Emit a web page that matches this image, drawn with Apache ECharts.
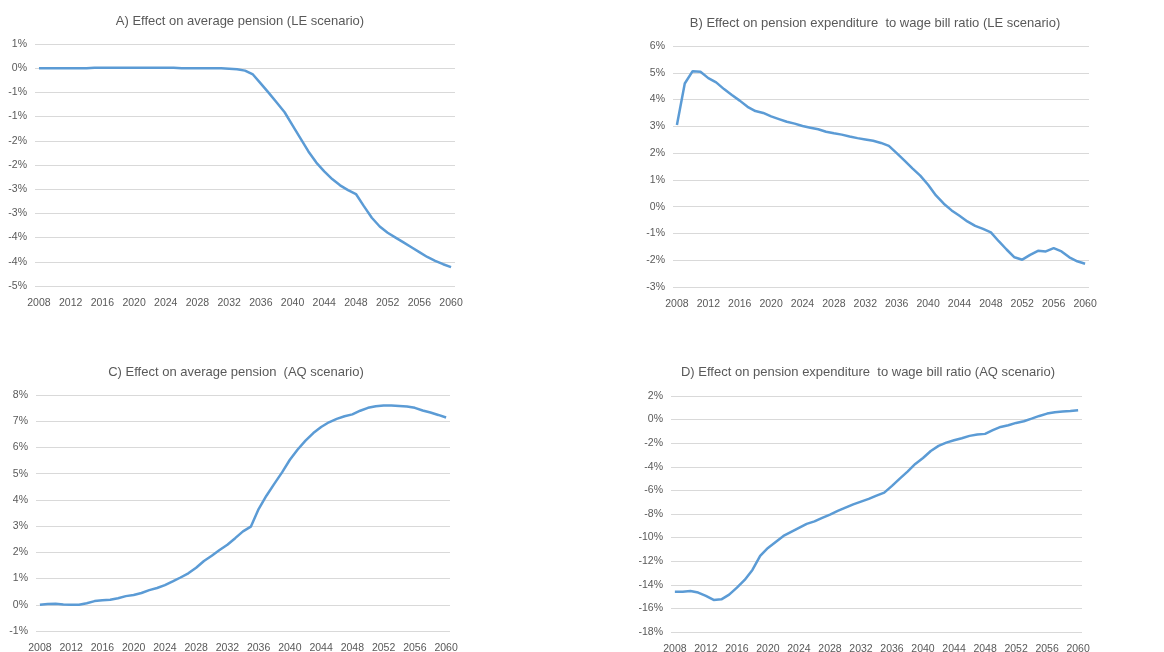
<!DOCTYPE html>
<html>
<head>
<meta charset="utf-8">
<title>Effect on pensions</title>
<script src="https://cdn.jsdelivr.net/npm/echarts@6/dist/echarts.min.js"></script>
<style>
    html, body { margin: 0; padding: 0; background: #ffffff; }
    #chart { width: 1164px; height: 652px; }
</style>
</head>
<body>
<div id="chart"></div>
<script>
const years = [
    '2008', '2009', '2010', '2011', '2012', '2013', '2014', '2015', '2016', '2017',
    '2018', '2019', '2020', '2021', '2022', '2023', '2024', '2025', '2026', '2027',
    '2028', '2029', '2030', '2031', '2032', '2033', '2034', '2035', '2036', '2037',
    '2038', '2039', '2040', '2041', '2042', '2043', '2044', '2045', '2046', '2047',
    '2048', '2049', '2050', '2051', '2052', '2053', '2054', '2055', '2056', '2057',
    '2058', '2059', '2060'
];

// A) average pension, LE scenario (%)
const avgPensionLE = [
    0, 0, 0, 0, 0, 0, 0, 0.01, 0.01, 0.01,
    0.01, 0.01, 0.01, 0.01, 0.01, 0.01, 0.01, 0.01, 0, 0,
    0, 0, 0, 0, -0.01, -0.02, -0.05, -0.13, -0.32, -0.51,
    -0.71, -0.91, -1.18, -1.45, -1.72, -1.95, -2.13, -2.29, -2.42, -2.52,
    -2.6, -2.85, -3.09, -3.27, -3.4, -3.5, -3.6, -3.7, -3.8, -3.9,
    -3.98, -4.05, -4.11
];

// B) pension expenditure to wage bill ratio, LE scenario (%)
const expRatioLE = [
    3.05, 4.6, 5.06, 5.04, 4.8, 4.64, 4.39, 4.17, 3.96, 3.73,
    3.57, 3.5, 3.37, 3.27, 3.17, 3.1, 3.01, 2.95, 2.89, 2.8,
    2.74, 2.69, 2.62, 2.56, 2.51, 2.46, 2.38, 2.27, 2.0, 1.72,
    1.43, 1.16, 0.82, 0.42, 0.11, -0.14, -0.34, -0.55, -0.72, -0.83,
    -0.96, -1.29, -1.6, -1.89, -1.98, -1.8, -1.65, -1.67, -1.55, -1.67,
    -1.89, -2.04, -2.13
];

// C) average pension, AQ scenario (%)
const avgPensionAQ = [
    0, 0.03, 0.04, 0.01, 0, 0, 0.06, 0.14, 0.17, 0.19,
    0.25, 0.33, 0.37, 0.45, 0.56, 0.64, 0.75, 0.89, 1.04, 1.2,
    1.41, 1.67, 1.87, 2.09, 2.29, 2.54, 2.8, 2.98, 3.65, 4.16,
    4.61, 5.05, 5.53, 5.92, 6.26, 6.55, 6.78, 6.96, 7.09, 7.19,
    7.26, 7.4, 7.51, 7.57, 7.6, 7.6, 7.58, 7.56, 7.51, 7.41,
    7.33, 7.24, 7.14
];

// D) pension expenditure to wage bill ratio, AQ scenario (%)
const expRatioAQ = [
    -14.58, -14.58, -14.52, -14.66, -14.94, -15.28, -15.23, -14.83, -14.24, -13.59,
    -12.74, -11.55, -10.88, -10.37, -9.86, -9.52, -9.18, -8.84, -8.62, -8.33,
    -8.05, -7.74, -7.46, -7.18, -6.95, -6.72, -6.44, -6.19, -5.62, -5.0,
    -4.41, -3.76, -3.25, -2.66, -2.23, -1.95, -1.75, -1.58, -1.38, -1.27,
    -1.21, -0.9, -0.62, -0.48, -0.28, -0.14, 0.08, 0.31, 0.51, 0.62,
    0.68, 0.73, 0.79
];

const titles = [
    'A) Effect on average pension (LE scenario)',
    'B) Effect on pension expenditure  to wage bill ratio (LE scenario)',
    'C) Effect on average pension  (AQ scenario)',
    'D) Effect on pension expenditure  to wage bill ratio (AQ scenario)'
];

const textColor = '#595959';
const gridColor = '#d9d9d9';
const lineColor = '#5b9bd5';
const fontFamily = 'Liberation Sans, Arial, sans-serif';

// excel style: round half away from zero, no decimals
function pctLabel(v) {
    const r = Math.round(Math.abs(v) + 1e-9);
    if (r === 0) return '0%';
    return (v < 0 ? '-' : '') + r + '%';
}

const panels = [
    { data: avgPensionLE, grid: { left: 35, top: 44, width: 420, height: 242 }, min: -4.5, max: 0.5, interval: 0.5, title: { x: 235, y: 10 } },
    { data: expRatioLE, grid: { left: 673, top: 46, width: 416, height: 241 }, min: -3, max: 6, interval: 1, title: { x: 870, y: 12 } },
    { data: avgPensionAQ, grid: { left: 36, top: 395, width: 414, height: 236 }, min: -1, max: 8, interval: 1, title: { x: 231, y: 361 } },
    { data: expRatioAQ, grid: { left: 671, top: 396, width: 411, height: 236 }, min: -18, max: 2, interval: 2, title: { x: 863, y: 361 } }
];

const chart = echarts.init(document.getElementById('chart'));

const option = {
    backgroundColor: '#ffffff',
    animation: false,
    title: panels.map((p, i) => ({
        text: titles[i],
        left: p.title.x,
        top: p.title.y,
        textAlign: 'center',
        textStyle: {
            fontFamily: fontFamily,
            fontSize: 13,
            fontWeight: 'normal',
            color: textColor
        }
    })),
    grid: panels.map(p => Object.assign({ containLabel: false, outerBoundsMode: 'none' }, p.grid)),
    xAxis: panels.map((p, i) => ({
        type: 'category',
        gridIndex: i,
        data: years,
        boundaryGap: true,
        position: 'bottom',
        axisLine: { show: false },
        axisTick: { show: false },
        axisLabel: {
            interval: 3,
            margin: 12,
            color: textColor,
            fontFamily: fontFamily,
            fontSize: 10.5
        },
        splitLine: { show: false }
    })),
    yAxis: panels.map((p, i) => ({
        type: 'value',
        gridIndex: i,
        min: p.min,
        max: p.max,
        interval: p.interval,
        axisLine: { show: false },
        axisTick: { show: false },
        axisLabel: {
            margin: 8,
            color: textColor,
            fontFamily: fontFamily,
            fontSize: 10.5,
            formatter: pctLabel
        },
        splitLine: { lineStyle: { color: gridColor, width: 1 } }
    })),
    series: panels.map((p, i) => ({
        type: 'line',
        xAxisIndex: i,
        yAxisIndex: i,
        data: p.data,
        showSymbol: false,
        lineStyle: { color: lineColor, width: 2.5 },
        itemStyle: { color: lineColor }
    }))
};

chart.setOption(option);
</script>
</body>
</html>
